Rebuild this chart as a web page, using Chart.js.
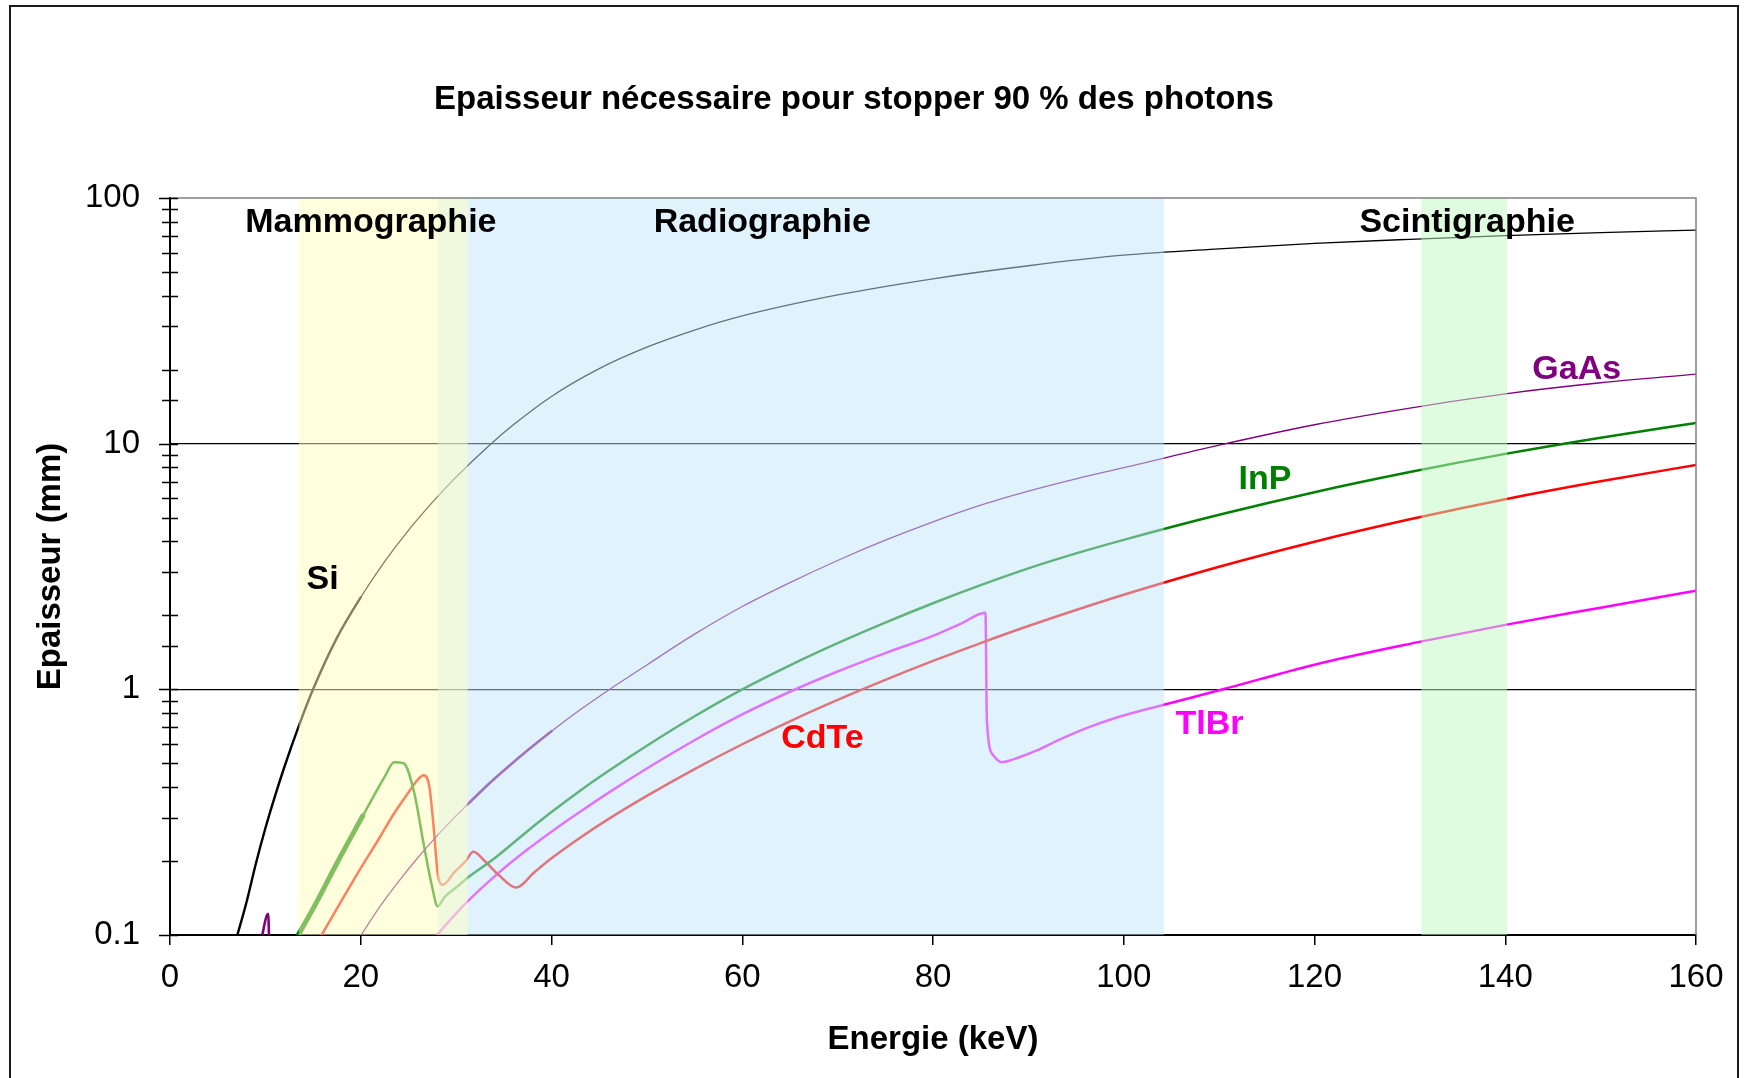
<!DOCTYPE html>
<html>
<head>
<meta charset="utf-8">
<title>Epaisseur nécessaire pour stopper 90 % des photons</title>
<script src="https://cdn.jsdelivr.net/npm/chart.js@4.4.1/dist/chart.umd.min.js"></script>
<style>
  html, body { margin: 0; padding: 0; background: #fff; }
  #wrap { width: 1744px; height: 1078px; }
</style>
</head>
<body>
<div id="wrap"><canvas id="chart" width="1744" height="1078"></canvas></div>
<script>
(function () {
    'use strict';

    // énergie (keV) / épaisseur (mm)
    const siE = [7, 8, 9, 10, 11, 12, 13.5, 15, 17.5, 20, 22.5, 25, 28, 30, 33.5, 36, 40, 45, 50, 55, 60, 70, 80, 90, 100, 110, 120, 130, 140, 150, 160];
    const siT = [0.098, 0.135, 0.195, 0.272, 0.367, 0.484, 0.708, 1.0, 1.62, 2.37, 3.31, 4.44, 6.06, 7.32, 9.86, 11.93, 15.57, 20.2, 24.7, 29.0, 33.1, 40.3, 46.9, 53.0, 58.5, 62.1, 65.3, 67.9, 70.3, 72.3, 74.0];

    const gaasE = [9.5, 10.3, 10.45, 15, 19.9, 22, 24, 26, 28, 30, 31.2, 33, 35, 37.5, 40, 43, 46, 50, 55, 60, 65, 70, 75, 80, 85, 90, 95, 100, 110, 120, 130, 140, 150, 160];
    const gaasT = [0.093, 0.122, 0.07, null, 0.098, 0.1305, 0.1658, 0.2067, 0.2532, 0.3057, 0.34, 0.3977, 0.4671, 0.5649, 0.6752, 0.8251, 0.9942, 1.257, 1.677, 2.173, 2.72, 3.346, 4.046, 4.808, 5.62, 6.412, 7.194, 7.98, 9.86, 11.94, 13.96, 15.96, 17.7, 19.19];

    const inpE = [13.45, 15, 17.5, 20.2, 21.4, 22.5, 23.5, 24.5, 25.6, 26.6, 27.5, 28.05, 28.8, 30, 31.2, 34, 37, 40, 43, 46, 50, 55, 60, 65, 70, 75, 80, 85, 90, 95, 100, 110, 120, 130, 140, 150, 160];
    const inpT = [0.1, 0.128, 0.196, 0.305, 0.37, 0.44, 0.505, 0.5, 0.38, 0.234, 0.156, 0.131, 0.143, 0.156, 0.171, 0.2048, 0.2555, 0.3164, 0.3867, 0.4659, 0.5894, 0.7769, 1.0, 1.253, 1.542, 1.87, 2.241, 2.655, 3.107, 3.575, 4.059, 5.133, 6.346, 7.663, 9.088, 10.58, 12.14];

    const cdteE = [15.9, 17.5, 20, 22, 23.5, 25, 26, 26.6, 27.2, 27.7, 28.05, 28.6, 29.8, 31, 31.8, 33, 34.5, 36.3, 38.2, 40, 43, 46, 50, 55, 60, 65, 70, 75, 80, 85, 90, 95, 100, 110, 120, 130, 140, 150, 160];
    const cdteT = [0.1, 0.128, 0.187, 0.25, 0.313, 0.38, 0.43, 0.447, 0.4, 0.26, 0.18, 0.16, 0.18, 0.2, 0.218, 0.2, 0.175, 0.156, 0.18, 0.2051, 0.2489, 0.2969, 0.3684, 0.4735, 0.5977, 0.7413, 0.9057, 1.093, 1.305, 1.543, 1.81, 2.104, 2.427, 3.155, 3.99, 4.92, 5.943, 7.031, 8.185];

    const tlbrE = [28.0, 30, 31.2, 34, 37, 40, 43, 46, 50, 55, 60, 65, 70, 75, 80, 83, 85.5, 85.65, 86.3, 87.2, 88.5, 90.7, 93.5, 96.3, 99.2, 104.2, 110.4, 120, 131, 140, 150, 160];
    const tlbrT = [0.1, 0.1224, 0.137, 0.1729, 0.2157, 0.2634, 0.3174, 0.3799, 0.4762, 0.6206, 0.79, 0.9777, 1.182, 1.405, 1.651, 1.857, 2.05, 0.75, 0.54, 0.505, 0.52, 0.56, 0.63, 0.7, 0.766, 0.865, 1.0, 1.26, 1.56, 1.83, 2.15, 2.52];

    // domaines d'application (keV), dans l'ordre de dessin
    const bandNames = ['Radiographie', 'Mammographie', 'Scintigraphie'];
    const bandStart = [28.1, 13.5, 131.2];
    const bandEnd = [104.2, 31.2, 140.2];

    const xTickStep = 20;

    const FONT = '"Liberation Sans", Arial, sans-serif';
    const BAND_COLORS = {
        Radiographie: 'rgba(193, 229, 249, 0.5)',
        Mammographie: 'rgba(255, 255, 189, 0.5)',
        Scintigraphie: 'rgba(193, 249, 193, 0.5)'
    };

    // textes posés en coordonnées (keV, mm)
    const notes = [
        { text: 'Mammographie', e: 21.06, t: 79.1, color: '#000' },
        { text: 'Radiographie', e: 62.1, t: 79.1, color: '#000' },
        { text: 'Scintigraphie', e: 136.0, t: 79.1, color: '#000' },
        { text: 'Si', e: 16.0, t: 2.79, color: '#000' },
        { text: 'GaAs', e: 147.5, t: 19.95, color: '#800080' },
        { text: 'InP', e: 114.8, t: 7.11, color: '#008000' },
        { text: 'TlBr', e: 109.0, t: 0.716, color: '#FF00FF' },
        { text: 'CdTe', e: 68.4, t: 0.628, color: '#FF0000' }
    ];

    function toPoints(xs, ys) {
        return xs.map((e, i) => ({ x: e, y: ys[i] }));
    }

    function isDecade(v) {
        const l = Math.log10(v);
        return Math.abs(l - Math.round(l)) < 1e-6;
    }

    const framePlugin = {
        id: 'frame',
        beforeDraw(chart) {
            const ctx = chart.ctx;
            ctx.save();
            ctx.fillStyle = '#fff';
            ctx.fillRect(0, 0, chart.width, chart.height);
            ctx.strokeStyle = '#1a1a1a';
            ctx.lineWidth = 2;
            ctx.beginPath();
            ctx.moveTo(10, chart.height + 5);
            ctx.lineTo(10, 6);
            ctx.lineTo(1738, 6);
            ctx.lineTo(1738, chart.height + 5);
            ctx.stroke();
            ctx.restore();
        },
        afterDatasetsDraw(chart) {
            const { ctx, chartArea: a, scales: { x } } = chart;
            ctx.save();
            ctx.beginPath();
            ctx.rect(a.left, a.top, a.right - a.left, a.bottom - a.top);
            ctx.clip();
            bandNames.forEach((name, i) => {
                const x0 = x.getPixelForValue(bandStart[i]);
                const x1 = x.getPixelForValue(bandEnd[i]);
                ctx.fillStyle = BAND_COLORS[name];
                ctx.fillRect(x0, a.top, x1 - x0, a.bottom - a.top);
            });
            ctx.restore();
        },
        afterDraw(chart) {
            const { ctx, chartArea: a, scales: { x, y } } = chart;
            ctx.save();

            // cadre haut / droit
            ctx.strokeStyle = '#808080';
            ctx.lineWidth = 1.5;
            ctx.beginPath();
            ctx.moveTo(a.left, a.top);
            ctx.lineTo(a.right, a.top);
            ctx.lineTo(a.right, a.bottom);
            ctx.stroke();

            // graduations log
            ctx.strokeStyle = '#000';
            ctx.lineWidth = 1.5;
            ctx.beginPath();
            y.ticks.forEach(t => {
                const py = Math.round(y.getPixelForValue(t.value)) + 0.5;
                if (isDecade(t.value)) {
                    ctx.moveTo(a.left - 11, py);
                    ctx.lineTo(a.left + 8, py);
                } else {
                    ctx.moveTo(a.left - 8, py);
                    ctx.lineTo(a.left + 8, py);
                }
            });
            ctx.stroke();

            // textes dans le graphe
            ctx.font = 'bold 34px ' + FONT;
            ctx.textAlign = 'center';
            ctx.textBaseline = 'middle';
            notes.forEach(n => {
                ctx.fillStyle = n.color;
                ctx.fillText(n.text, x.getPixelForValue(n.e), y.getPixelForValue(n.t));
            });

            // titres
            ctx.fillStyle = '#000';
            ctx.font = 'bold 33px ' + FONT;
            ctx.fillText('Epaisseur nécessaire pour stopper 90 % des photons', 854, 100);
            ctx.fillText('Energie (keV)', (a.left + a.right) / 2, 1040);
            ctx.translate(51, (a.top + a.bottom) / 2);
            ctx.rotate(-Math.PI / 2);
            ctx.fillText('Epaisseur (mm)', 0, 0);
            ctx.restore();
        }
    };

    const datasets = [
        {
            label: 'Si',
            data: toPoints(siE, siT),
            borderColor: '#000000',
            borderWidth: 1.3,
            segment: { borderWidth: c => (c.p1.parsed.x <= 20 ? 2.4 : 1.3) }
        },
        {
            label: 'GaAs',
            data: toPoints(gaasE, gaasT),
            borderColor: '#800080',
            borderWidth: 1.3,
            segment: {
                borderWidth: c => ((c.p1.parsed.x <= 10.5 || (c.p0.parsed.x >= 31.2 && c.p1.parsed.x <= 40)) ? 2.6 : 1.3)
            }
        },
        {
            label: 'InP',
            data: toPoints(inpE, inpT),
            borderColor: '#008000',
            borderWidth: 2.5,
            segment: { borderWidth: c => (c.p1.parsed.x <= 20.2 ? 5 : 2.5) }
        },
        {
            label: 'CdTe',
            data: toPoints(cdteE, cdteT),
            borderColor: '#FF0000',
            borderWidth: 2.5
        },
        {
            label: 'TlBr',
            data: toPoints(tlbrE, tlbrT),
            borderColor: '#FF00FF',
            borderWidth: 2.5
        }
    ];

    new Chart(document.getElementById('chart'), {
        type: 'line',
        data: { datasets: datasets },
        options: {
            responsive: false,
            animation: false,
            events: [],
            layout: { padding: { top: 198, right: 48, left: 0, bottom: 0 } },
            plugins: {
                legend: { display: false },
                tooltip: { enabled: false },
                title: { display: false }
            },
            elements: {
                point: { radius: 0 },
                line: { cubicInterpolationMode: 'monotone', borderJoinStyle: 'round', borderCapStyle: 'round', fill: false }
            },
            scales: {
                x: {
                    type: 'linear',
                    min: 0,
                    max: 160,
                    afterFit: s => { s.height = 143; },
                    ticks: { stepSize: xTickStep, color: '#000', font: { family: FONT, size: 33 }, padding: 13, maxRotation: 0 },
                    grid: { drawOnChartArea: false, drawTicks: true, tickLength: 10, color: '#000', lineWidth: 1.5 },
                    border: { color: '#000', width: 2 }
                },
                y: {
                    type: 'logarithmic',
                    min: 0.1,
                    max: 100,
                    afterFit: s => { s.width = 170; },
                    ticks: {
                        autoSkip: false,
                        color: '#000',
                        font: { family: FONT, size: 33 },
                        padding: 30,
                        callback: v => (isDecade(v) ? String(Math.pow(10, Math.round(Math.log10(v)))) : '')
                    },
                    grid: {
                        drawTicks: false,
                        lineWidth: 1.3,
                        color: c => {
                            const v = c.tick && c.tick.value;
                            return (v === 1 || v === 10) ? '#000' : 'rgba(0,0,0,0)';
                        }
                    },
                    border: { color: '#000', width: 2 }
                }
            }
        },
        plugins: [framePlugin]
    });
})();
</script>
</body>
</html>
